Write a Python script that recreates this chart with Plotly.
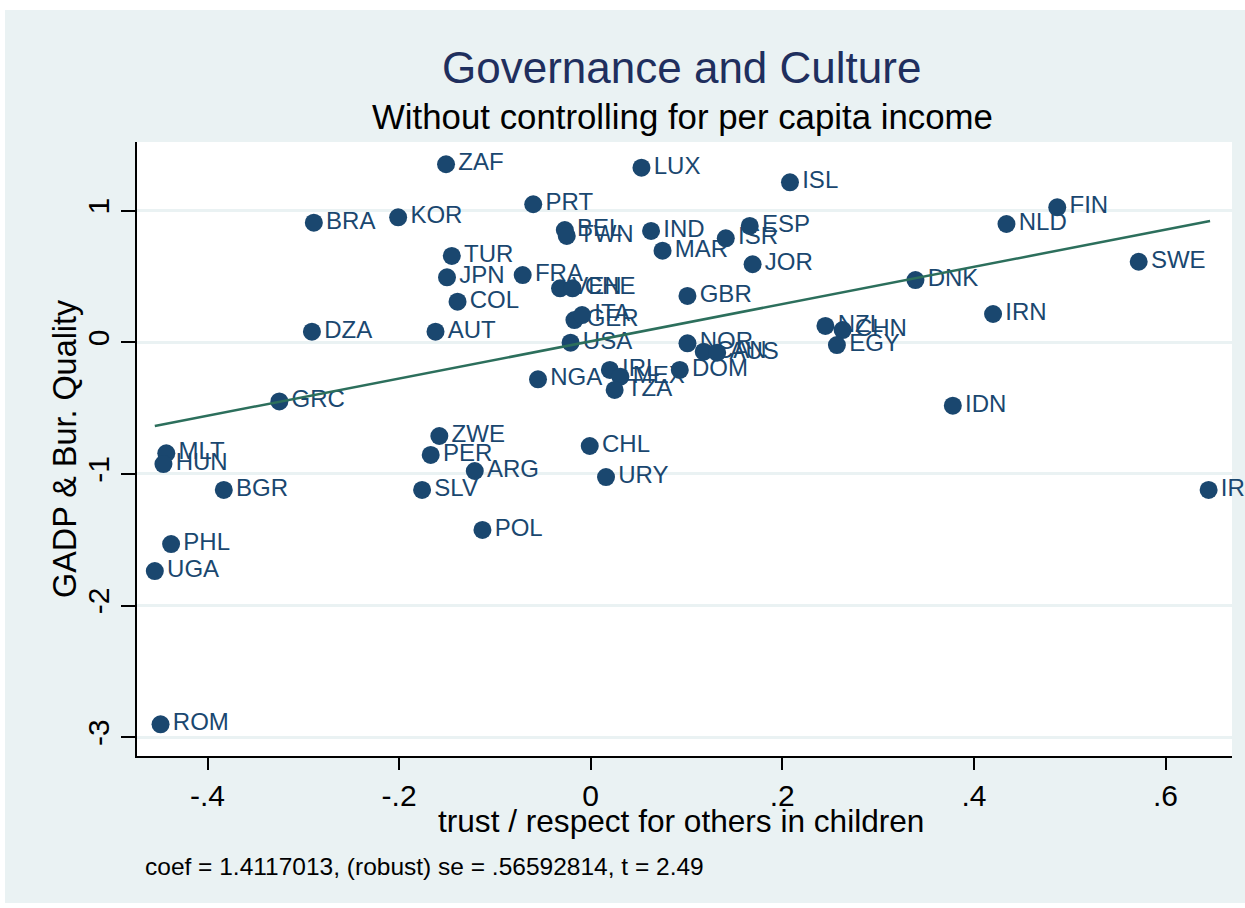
import plotly.graph_objects as go

countries = ["ZAF", "LUX", "ISL", "PRT", "BRA", "KOR", "BEL", "TWN", "IND", "ESP",
             "ISR", "FIN", "NLD", "MAR", "TUR", "JPN", "FRA", "VEN", "CHE", "JOR",
             "SWE", "DNK", "COL", "GBR", "GER", "ITA", "DZA", "AUT", "IRN", "NZL",
             "CHN", "USA", "NOR", "CAN", "AUS", "EGY", "NGA", "IRL", "MEX", "DOM",
             "TZA", "GRC", "IDN", "ZWE", "MLT", "HUN", "CHL", "PER", "ARG", "URY",
             "BGR", "SLV", "IRQ", "POL", "PHL", "UGA", "ROM"]
trust = [-0.151, 0.053, 0.208, -0.060, -0.289, -0.201, -0.027, -0.025, 0.063, 0.166,
         0.141, 0.487, 0.434, 0.075, -0.145, -0.150, -0.071, -0.032, -0.019, 0.169,
         0.572, 0.339, -0.139, 0.101, -0.017, -0.009, -0.291, -0.162, 0.420, 0.245,
         0.263, -0.021, 0.101, 0.118, 0.132, 0.257, -0.055, 0.020, 0.031, 0.093,
         0.025, -0.325, 0.378, -0.158, -0.443, -0.446, -0.001, -0.167, -0.121, 0.016,
         -0.383, -0.176, 0.645, -0.113, -0.438, -0.455, -0.449]
gadp = [1.353, 1.327, 1.216, 1.049, 0.909, 0.950, 0.853, 0.808, 0.846, 0.884,
        0.790, 1.026, 0.899, 0.696, 0.656, 0.494, 0.511, 0.410, 0.410, 0.593,
        0.612, 0.473, 0.309, 0.352, 0.169, 0.207, 0.081, 0.081, 0.215, 0.124,
        0.093, -0.003, -0.008, -0.071, -0.079, -0.021, -0.281, -0.210, -0.261, -0.210,
        -0.362, -0.449, -0.482, -0.712, -0.843, -0.925, -0.788, -0.856, -0.978, -1.024,
        -1.122, -1.122, -1.122, -1.426, -1.533, -1.738, -2.903]

fit_x = [-0.455, 0.6465]
fit_y = [-0.636, 0.922]

x_tickvals = [-0.4, -0.2, 0, 0.2, 0.4, 0.6]
x_ticktext = ["-.4", "-.2", "0", ".2", ".4", ".6"]
y_tickvals = [-3, -2, -1, 0, 1]
y_ticktext = ["-3", "-2", "-1", "0", "1"]

title_text = "Governance and Culture"
subtitle_text = "Without controlling for per capita income"
x_title = "trust / respect for others in children"
y_title = "GADP &amp; Bur. Quality"
note_text = "coef = 1.4117013, (robust) se = .56592814, t = 2.49"

FONT = "Liberation Sans, Arial, sans-serif"
NAVY = "#1A476F"
BG = "#EAF2F3"

W, H = 1245, 908
L, R, T, B = 137, 1232, 142, 756
pw, ph = R - L, B - T


def px(xp):
    return (xp - L) / pw


def py(yp):
    return (B - yp) / ph


fig = go.Figure()
fig.add_trace(go.Scatter(
    x=trust, y=gadp, mode="markers+text", text=countries,
    textposition="middle right",
    marker=dict(size=18, color=NAVY, line=dict(width=0)),
    textfont=dict(family=FONT, size=24, color=NAVY),
    cliponaxis=False, showlegend=False, hoverinfo="skip"))
fig.add_trace(go.Scatter(
    x=fit_x, y=fit_y, mode="lines",
    line=dict(color="#2C6F5C", width=2.5),
    showlegend=False, hoverinfo="skip"))

fig.update_layout(
    width=W, height=H,
    margin=dict(l=L, r=W - R, t=T, b=H - B, pad=0),
    paper_bgcolor=BG, plot_bgcolor="white",
    font=dict(family=FONT, color="black"),
    xaxis=dict(range=[(L - 590.7) / 958, (R - 590.7) / 958],
               tickvals=x_tickvals, ticktext=x_ticktext,
               showgrid=False, zeroline=False,
               showline=True, linecolor="black", linewidth=2,
               ticks="outside", ticklen=12, tickwidth=2, tickcolor="black",
               tickfont=dict(family=FONT, size=30, color="black")),
    yaxis=dict(range=[(342.3 - B) / 131.6, (342.3 - T) / 131.6],
               tickvals=y_tickvals, ticktext=y_ticktext, tickangle=-90,
               showgrid=True, gridcolor=BG, gridwidth=2.5, zeroline=False,
               showline=True, linecolor="black", linewidth=2,
               ticks="outside", ticklen=14, tickwidth=2, tickcolor="black",
               tickfont=dict(family=FONT, size=30, color="black")),
    shapes=[
        dict(type="rect", xref="paper", yref="paper", layer="below",
             x0=px(-5), x1=px(W + 5), y0=py(-5), y1=py(10),
             fillcolor="white", line=dict(width=0)),
        dict(type="rect", xref="paper", yref="paper", layer="below",
             x0=px(-5), x1=px(5), y0=py(H + 5), y1=py(-5),
             fillcolor="white", line=dict(width=0)),
        dict(type="rect", xref="paper", yref="paper", layer="below",
             x0=px(-5), x1=px(W + 5), y0=py(H + 5), y1=py(903),
             fillcolor="white", line=dict(width=0)),
    ],
    annotations=[
        dict(text=title_text, xref="paper", yref="paper", x=px(681.5), y=py(67.5),
             xanchor="center", yanchor="middle", showarrow=False,
             font=dict(family=FONT, size=44, color="#1F2F5E")),
        dict(text=subtitle_text, xref="paper", yref="paper", x=px(682.5), y=py(117),
             xanchor="center", yanchor="middle", showarrow=False,
             font=dict(family=FONT, size=34.8, color="black")),
        dict(text=x_title, xref="paper", yref="paper", x=px(681), y=py(821),
             xanchor="center", yanchor="middle", showarrow=False,
             font=dict(family=FONT, size=31.6, color="black")),
        dict(text=y_title, xref="paper", yref="paper", x=px(65), y=py(449),
             xanchor="center", yanchor="middle", showarrow=False, textangle=-90,
             font=dict(family=FONT, size=32.4, color="black")),
        dict(text=note_text, xref="paper", yref="paper", x=px(143), y=py(866),
             xanchor="left", yanchor="middle", showarrow=False,
             font=dict(family=FONT, size=24.5, color="black")),
    ],
)

fig.write_html("out.html")
